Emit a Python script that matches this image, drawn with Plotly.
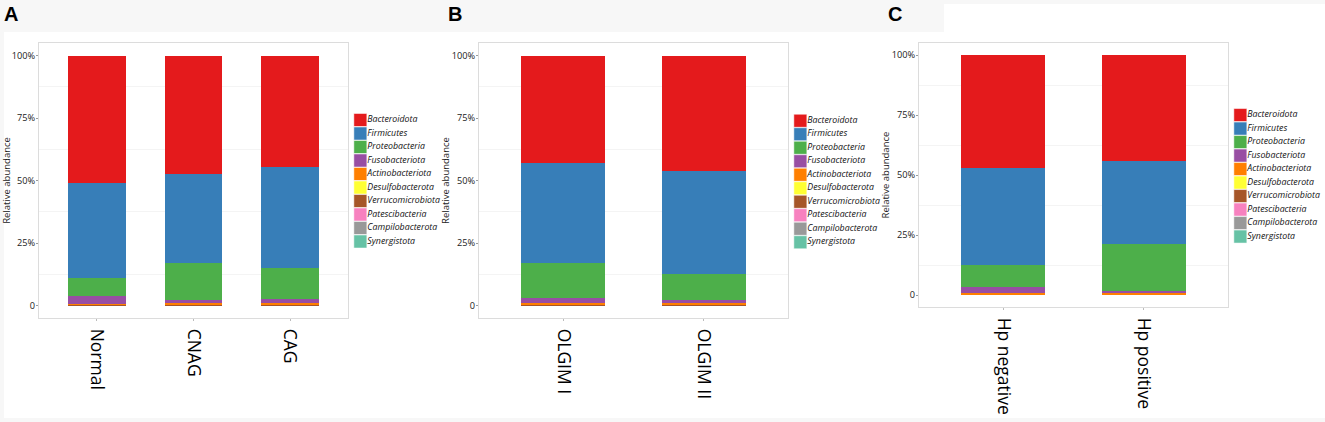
import plotly.graph_objects as go

W, H = 1325, 422

taxa = ["Bacteroidota", "Firmicutes", "Proteobacteria", "Fusobacteriota",
        "Actinobacteriota", "Desulfobacterota", "Verrucomicrobiota",
        "Patescibacteria", "Campilobacterota", "Synergistota"]

taxa_colors = ["#E41A1C", "#377EB8", "#4DAF4A", "#984EA3", "#FF7F00",
               "#FFFF33", "#A65628", "#F781BF", "#999999", "#66C2A5"]

# relative abundance (%) per group, same order as taxa
groups_a = ["Normal", "CNAG", "CAG"]
normal = [51.0, 37.8, 7.5, 2.9, 0.4, 0.2, 0.05, 0.05, 0.05, 0.05]
cnag = [47.5, 35.5, 14.9, 1.2, 0.55, 0.15, 0.05, 0.05, 0.05, 0.05]
cag = [44.7, 40.2, 12.3, 1.6, 0.8, 0.2, 0.05, 0.05, 0.05, 0.05]

groups_b = ["OLGIM I", "OLGIM II"]
olgim_1 = [43.0, 39.8, 14.1, 2.2, 0.5, 0.2, 0.05, 0.05, 0.05, 0.05]
olgim_2 = [46.2, 41.1, 10.6, 0.9, 0.8, 0.2, 0.05, 0.05, 0.05, 0.05]

groups_c = ["Hp negative", "Hp positive"]
hp_neg = [47.2, 40.1, 9.5, 2.4, 0.4, 0.2, 0.05, 0.05, 0.05, 0.05]
hp_pos = [44.2, 34.7, 19.3, 1.0, 0.5, 0.1, 0.05, 0.05, 0.05, 0.05]

y_ticks = [0, 25, 50, 75, 100]
y_ticktext = ["0", "25%", "50%", "75%", "100%"]

panel_letters = ["A", "B", "C"]


def px_x(v):
    return v / W


def px_y(v):
    return (H - v) / H


# pixel boxes of each panel (left, right, top, bottom) and legend box
panels = [
    dict(groups=groups_a, values=[normal, cnag, cag], box=(39, 348, 43, 318),
         leg=(354, 366.7, 113.25), letter_x=2),
    dict(groups=groups_b, values=[olgim_1, olgim_2], box=(479, 788, 43, 318),
         leg=(794, 806.7, 114), letter_x=446),
    dict(groups=groups_c, values=[hp_neg, hp_pos], box=(919, 1228, 43, 307),
         leg=(1234, 1246.7, 108.3), letter_x=886),
]

fig = go.Figure()
layout = {}

for p_i, panel in enumerate(panels):
    n = p_i + 1
    xa = "x" if n == 1 else f"x{n}"
    ya = "y" if n == 1 else f"y{n}"
    # stack bottom-up so Bacteroidota ends on top
    for t_i in reversed(range(len(taxa))):
        fig.add_trace(go.Bar(
            x=panel["groups"],
            y=[vals[t_i] for vals in panel["values"]],
            name=taxa[t_i],
            marker=dict(color=taxa_colors[t_i], line=dict(width=0)),
            width=0.6,
            xaxis=xa, yaxis=ya,
            showlegend=False,
        ))

    l, r, t, b = panel["box"]
    ng = len(panel["groups"])
    layout[f"xaxis{'' if n == 1 else n}"] = dict(
        domain=[px_x(l), px_x(r)], anchor=ya,
        range=[-0.6, ng - 0.4],
        tickangle=90,
        tickfont=dict(family="Open Sans", size=17.5, color="#000"),
        ticks="outside", ticklen=2, tickcolor="#bbbbbb",
        ticklabelstandoff=4,
        showline=True, mirror=True, linecolor="#dcdcdc", linewidth=1.3,
        showgrid=False, zeroline=False, fixedrange=True,
    )
    layout[f"yaxis{'' if n == 1 else n}"] = dict(
        domain=[px_y(b), px_y(t)], anchor=xa,
        range=[-5, 105],
        tickvals=y_ticks, ticktext=y_ticktext,
        tickfont=dict(family="Open Sans", size=9.2, color="#222"),
        ticks="outside", ticklen=2, tickcolor="#999999",
        ticklabelstandoff=-1,
        title=dict(text="Relative abundance", standoff=0,
                   font=dict(family="Open Sans", size=9.5, color="#222")),
        showline=True, mirror=True, linecolor="#dcdcdc", linewidth=1.3,
        showgrid=False, zeroline=False, fixedrange=True,
        minor=dict(tickvals=[12.5, 37.5, 62.5, 87.5], showgrid=True,
                   gridcolor="#f4f4f4", gridwidth=1, ticks=""),
    )

    # legend drawn as a swatch column on its own category axis
    lx0, lx1, ltop = panel["leg"]
    ln = n + 3
    fig.add_trace(go.Scatter(
        x=[0] * len(taxa), y=taxa,
        mode="markers",
        marker=dict(symbol="square", size=13, color=taxa_colors,
                    line=dict(width=0.5, color="#ffffff")),
        cliponaxis=False, hoverinfo="skip", showlegend=False,
        xaxis=f"x{ln}", yaxis=f"y{ln}",
    ))
    fig.add_trace(go.Scatter(
        x=[0.55] * len(taxa), y=taxa,
        mode="text",
        text=taxa, textposition="middle right",
        textfont=dict(family="Open Sans", size=8.8, color="#111", style="italic"),
        cliponaxis=False, hoverinfo="skip", showlegend=False,
        xaxis=f"x{ln}", yaxis=f"y{ln}",
    ))
    # axis is 6 swatch-widths wide so the labels' anchor falls inside its range
    layout[f"xaxis{ln}"] = dict(domain=[px_x(lx0), px_x(lx0 + 6 * (lx1 - lx0))],
                                anchor=f"y{ln}", range=[-0.5, 5.5],
                                visible=False, fixedrange=True)
    layout[f"yaxis{ln}"] = dict(domain=[px_y(ltop + 13.5 * len(taxa)), px_y(ltop)],
                                anchor=f"x{ln}", type="category",
                                categoryorder="array", categoryarray=taxa,
                                range=[len(taxa) - 0.5, -0.5],
                                visible=False, fixedrange=True)

annotations = []
for letter, panel in zip(panel_letters, panels):
    annotations.append(dict(
        text=f"<b>{letter}</b>", x=px_x(panel["letter_x"]), y=px_y(1),
        xref="paper", yref="paper", xanchor="left", yanchor="top",
        showarrow=False,
        font=dict(family="Liberation Sans", size=20, color="#000"),
    ))

shapes = [
    dict(type="rect", xref="paper", yref="paper", layer="below",
         x0=px_x(4), x1=1, y0=px_y(418), y1=px_y(32),
         fillcolor="#ffffff", line=dict(width=0)),
    dict(type="rect", xref="paper", yref="paper", layer="below",
         x0=px_x(944), x1=1, y0=px_y(32), y1=px_y(4),
         fillcolor="#ffffff", line=dict(width=0)),
]

fig.update_layout(
    **layout,
    barmode="stack",
    width=W, height=H,
    margin=dict(l=0, r=0, t=0, b=0),
    paper_bgcolor="#f7f7f7",
    plot_bgcolor="#ffffff",
    annotations=annotations,
    shapes=shapes,
    showlegend=False,
    bargap=0.4,
)

# drop the default page margin so the figure sits at the window corner
fig.write_html("out.html", config={"displayModeBar": False},
               post_script="document.body.style.margin='0px';")
